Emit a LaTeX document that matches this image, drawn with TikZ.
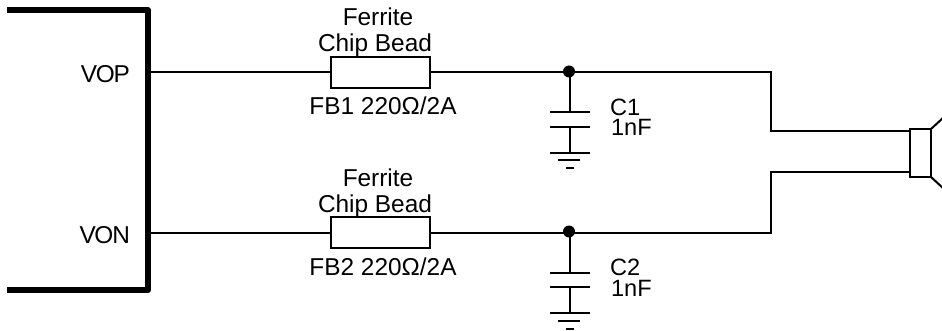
\documentclass[tikz,border=0pt]{standalone}
\usepackage{fontspec}
\setmainfont{Liberation Sans}
\begin{document}
\begin{tikzpicture}[x=1pt,y=-1pt,
  wire/.style={draw=black,line width=2pt},
  chip/.style={draw=black,line width=6pt,line join=round},
  lbl/.style={inner sep=0pt,outer sep=0pt,anchor=base,font=\fontsize{24.4pt}{25pt}\selectfont},
  lblr/.style={lbl,anchor=base east},
  lbll/.style={lbl,anchor=base west,font=\fontsize{23.6pt}{24pt}\selectfont},
  bead/.style={draw=black,line width=2pt,fill=white,minimum width=99pt,minimum height=31pt,inner sep=0pt,outer sep=0pt},
  horn/.style={draw=black,line width=2pt,minimum width=21pt,minimum height=48pt,inner sep=0pt,outer sep=0pt},
  junction/.style={circle,fill=black,minimum size=12pt,inner sep=0pt,outer sep=0pt}]
\useasboundingbox (0,0) rectangle (942,331);
\draw[chip] (7,10) -- (148,10) -- (148,290) -- (7,290);
\coordinate (pinP) at (148,72.5);
\coordinate (pinN) at (148,232.5);
\node[lblr] (vop) at (130,83) {V\kern-1.5pt O\kern-1pt P};
\node[lblr] (von) at (130,243) {V\kern-1.5pt O\kern-1pt N};
% bead labels
\node[lbl] (f1) at (378,26) {Ferrite};
\node[lbl] (cb1) at (375,52) {Chip Bead};
\node[lbl] (fb1) at (383,115) {FB1 220Ω/2A};
\node[lbl] (f2) at (378,186) {Ferrite};
\node[lbl] (cb2) at (375,212) {Chip Bead};
\node[lbl] (fb2) at (383,275) {FB2 220Ω/2A};
% beads
\node[bead] (b1) at (380.5,72.5) {};
\node[bead] (b2) at (380.5,232.5) {};
\draw[wire] (pinP) -- (b1.west);
\draw[wire] (pinN) -- (b2.west);
% junctions
\node[junction] (j1) at (569,71.5) {};
\node[junction] (j2) at (569,231.5) {};
% speaker
\coordinate (p1a) at (771,72.5);
\coordinate (p1b) at (771,131);
\coordinate (p2a) at (771,232.5);
\coordinate (p2b) at (771,172);
\node[horn] (spk) at (920.5,153) {};
\draw[wire] (b1.east) -- (p1a) -- (p1b) -- (spk.west |- p1b);
\draw[wire] (b2.east) -- (p2a) -- (p2b) -- (spk.west |- p2b);
\coordinate (h1) at (944,117);
\coordinate (h2) at (944,189);
\draw[wire] (spk.north east) -- (h1);
\draw[wire] (spk.south east) -- (h2);
% capacitors
\foreach \n/\yy in {1/0,2/160}{
  \coordinate (s\n) at (570,72+\yy);
  \coordinate (pa\n) at (570,112.5+\yy);
  \coordinate (pb\n) at (570,127+\yy);
  \coordinate (g\n) at (570,153+\yy);
  \draw[wire] (s\n) -- (pa\n);
  \draw[wire] (pb\n) -- (g\n);
  \draw[wire] (550,112.5+\yy) -- (590,112.5+\yy);
  \draw[wire] (550,127+\yy) -- (590,127+\yy);
  \draw[wire] (550,153+\yy) -- (590,153+\yy);
  \draw[wire] (558,160.5+\yy) -- (580,160.5+\yy);
  \draw[wire] (566,168.5+\yy) -- (574,168.5+\yy);
}
\node[lbll] (c1) at (610,115.5) {C1};
\node[lbll] (v1) at (611,136) {1nF};
\node[lbll] (c2) at (610,275.5) {C2};
\node[lbll] (v2) at (611,296) {1nF};
\end{tikzpicture}
\end{document}
